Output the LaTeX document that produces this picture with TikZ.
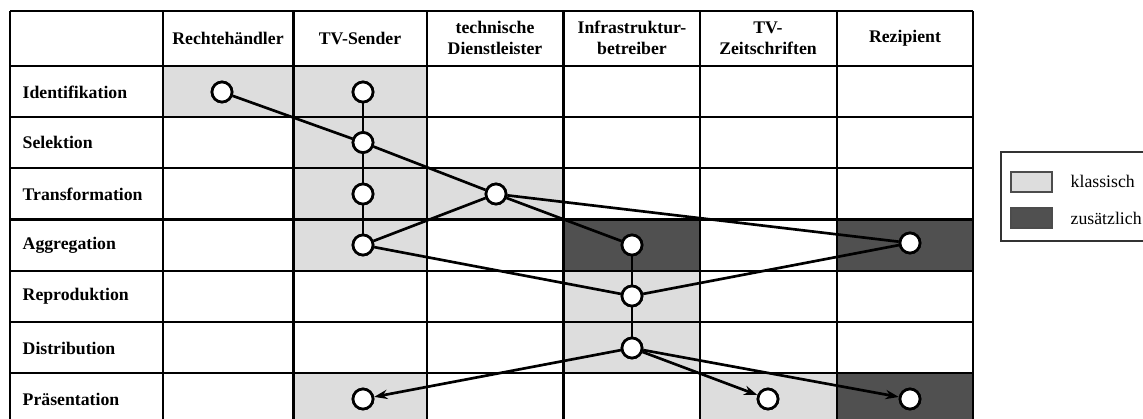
\documentclass[tikz,border=0pt]{standalone}
\usepackage{fontspec}
\setmainfont{Liberation Serif}
\usetikzlibrary{arrows.meta}
\definecolor{lightc}{HTML}{DDDDDD}
\definecolor{darkc}{HTML}{505050}
\tikzset{
  grid/.style={line width=1.6pt, black},
  conn/.style={line width=2pt, black},
  arr/.style={conn, -{Stealth[length=10pt,width=7pt]}},
  pt/.style={circle, draw=black, fill=white, line width=2pt, minimum size=15pt, inner sep=0pt},
  hdr/.style={font=\fontsize{13.3}{15.5}\selectfont\bfseries, align=center},
  rowlab/.style={font=\fontsize{13.3}{15.5}\selectfont\bfseries, anchor=west},
  legtxt/.style={font=\fontsize{13.3}{15.5}\selectfont, anchor=west},
}
\begin{document}
\begin{tikzpicture}[x=0.75pt,y=-0.75pt]
\useasboundingbox (0,0) rectangle (1143,418);
\clip (0,0) rectangle (1143,418);
\fill[white] (0,0) rectangle (1143,418);
% columns and rows
\def\cA{10}\def\cB{163}\def\cC{293.5}\def\cD{427}\def\cE{563.5}\def\cF{700}\def\cG{837}\def\cH{973}
\def\rA{11}\def\rB{66}\def\rC{117}\def\rD{168.3}\def\rE{219.5}\def\rF{271}\def\rG{322}\def\rH{373}\def\rI{424}
% light cells
\fill[lightc] (\cB,\rB) rectangle (\cC,\rC);
\fill[lightc] (\cC,\rB) rectangle (\cD,\rF);
\fill[lightc] (\cC,\rH) rectangle (\cD,\rI);
\fill[lightc] (\cD,\rD) rectangle (\cE,\rE);
\fill[lightc] (\cE,\rF) rectangle (\cF,\rH);
\fill[lightc] (\cF,\rH) rectangle (\cG,\rI);
% dark cells
\fill[darkc] (\cE,\rE) rectangle (\cF,\rF);
\fill[darkc] (\cG,\rE) rectangle (\cH,\rF);
\fill[darkc] (\cG,\rH) rectangle (\cH,\rI);
% grid
\foreach \x in {\cA,\cB,\cC,\cD,\cE,\cF,\cG,\cH} \draw[grid] (\x,\rA) -- (\x,\rI);
\foreach \y in {\rA,\rB,\rC,\rD,\rE,\rF,\rG,\rH,\rI} \draw[grid] (\cA,\y) -- (\cH,\y);
% header
\node[hdr] (h1) at (228,38) {Rechtehändler};
\node[hdr] (h2) at (360,38) {TV-Sender};
\node[hdr] (h3) at (495,38) {technische\\Dienstleister};
\node[hdr] (h4) at (632,38) {Infrastruktur-\\betreiber};
\node[hdr] (h5) at (768,38) {TV-\\Zeitschriften};
\node[hdr] (h6) at (905,38) {Rezipient};
% row labels
\node[rowlab] (l1) at (18,92) {Identifikation};
\node[rowlab] (l2) at (18,142.5) {Selektion};
\node[rowlab] (l3) at (18,194) {Transformation};
\node[rowlab] (l4) at (18,245) {Aggregation};
\node[rowlab] (l5) at (18,296.5) {Reproduktion};
\node[rowlab] (l6) at (18,348) {Distribution};
\node[rowlab] (l7) at (18,399) {Präsentation};
% points
\node[pt] (rI) at (222,92) {};
\node[pt] (tI) at (363,92) {};
\node[pt] (tS) at (363,142.5) {};
\node[pt] (tT) at (363,194) {};
\node[pt] (tA) at (363,245) {};
\node[pt] (tP) at (363,399) {};
\node[pt] (dT) at (496,194) {};
\node[pt] (iA) at (632,245) {};
\node[pt] (iR) at (632,296) {};
\node[pt] (iD) at (632,348) {};
\node[pt] (zP) at (768,399) {};
\node[pt] (eA) at (910,243) {};
\node[pt] (eP) at (910,399) {};
% connectors
\draw[conn] (rI) -- (tS);
\draw[conn] (tS) -- (dT);
\draw[conn] (tI) -- (tS);
\draw[conn] (tS) -- (tT);
\draw[conn] (tT) -- (tA);
\draw[conn] (dT) -- (tA);
\draw[conn] (dT) -- (iA);
\draw[conn] (dT) -- (eA);
\draw[conn] (tA) -- (iR);
\draw[conn] (eA) -- (iR);
\draw[conn] (iA) -- (iR);
\draw[conn] (iR) -- (iD);
\draw[arr] (iD) -- (tP);
\draw[arr] (iD) -- (zP);
\draw[arr] (iD) -- (eP);
% redraw points on top
\foreach \n in {rI,tI,tS,tT,tA,tP,dT,iA,iR,iD,zP,eA,eP}
  \node[pt] at (\n) {};
% legend
\draw[line width=1pt, black!80] (1001,152) rectangle (1160,241);
\draw[line width=1pt, black!70, fill=lightc] (1011,172) rectangle (1052,192);
\draw[line width=1pt, black!70, fill=darkc] (1011,208) rectangle (1052,228);
\node[legtxt] (k1) at (1066,181) {klassisch};
\node[legtxt] (k2) at (1066,218) {zusätzlich};
\end{tikzpicture}
\end{document}
